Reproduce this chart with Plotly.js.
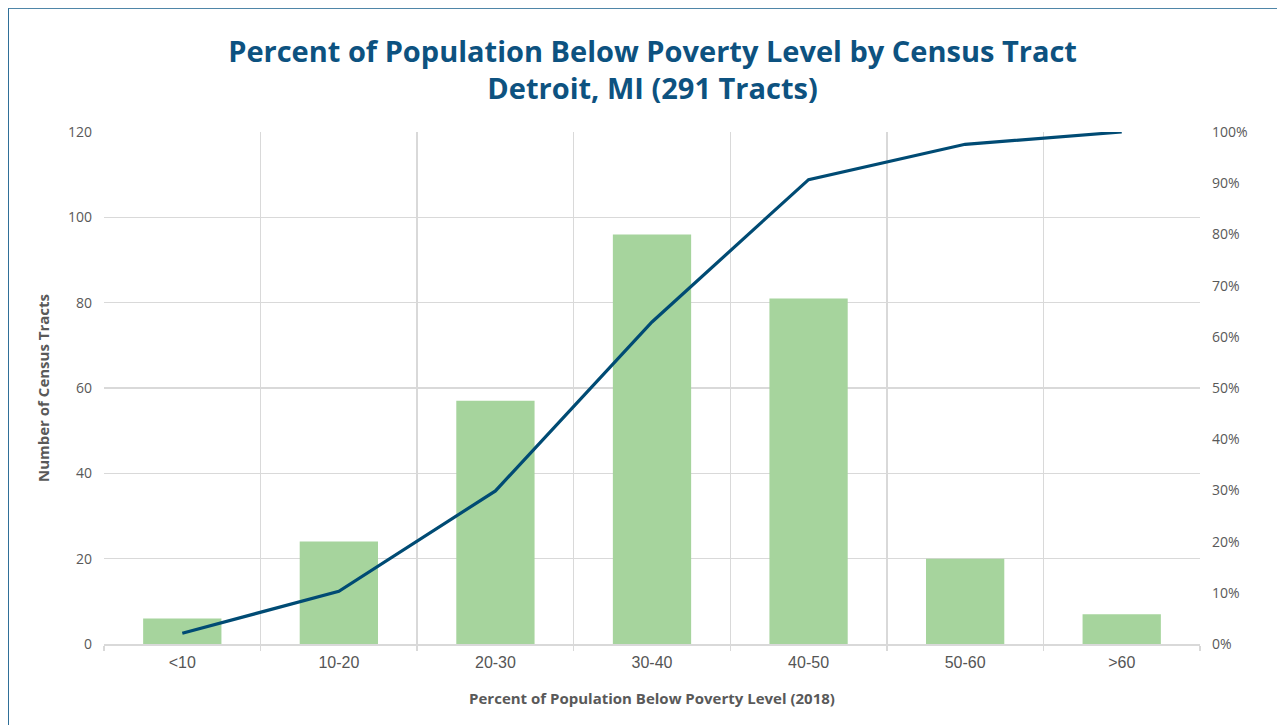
<!DOCTYPE html>
<html>
<head>
<meta charset="utf-8">
<script src="https://cdn.plot.ly/plotly-3.0.1.min.js"></script>
<style>
  html, body { margin: 0; padding: 0; background: #ffffff; }
  #frame { position: absolute; left: 8px; top: 8px; width: 1269px; height: 717px;
           border-left: 1.5px solid #2f6f98; border-top: 1.5px solid #4f86a8; }
  #chart { position: absolute; left: 0; top: 0; width: 1277px; height: 725px; }
</style>
</head>
<body>
<div id="frame"></div>
<div id="chart"></div>
<script>
const categories = ['<10', '10-20', '20-30', '30-40', '40-50', '50-60', '>60'];
const tractCounts = [6, 24, 57, 96, 81, 20, 7];
const cumulativeShare = [0.021, 0.103, 0.299, 0.629, 0.907, 0.976, 1.0];
const leftTicks = [0, 20, 40, 60, 80, 100, 120];

const bars = {
  type: 'bar', x: categories, y: tractCounts,
  marker: { color: '#a6d49d' }, hoverinfo: 'x+y', name: 'Tracts'
};
const line = {
  type: 'scatter', mode: 'lines', x: categories, y: cumulativeShare, yaxis: 'y2',
  line: { color: '#004b74', width: 3.2 }, name: 'Cumulative'
};

const layout = {
  width: 1277, height: 725,
  paper_bgcolor: 'rgba(0,0,0,0)', plot_bgcolor: '#ffffff',
  margin: { l: 104, r: 77, t: 132, b: 81 },
  showlegend: false,
  bargap: 0.5,
  title: {
    text: '<b>Percent of Population Below Poverty Level by Census Tract<br>Detroit, MI (291 Tracts)</b>',
    font: { family: 'Open Sans, sans-serif', size: 29, color: '#0d5280' },
    x: 0.511, xanchor: 'center', y: 0.915, yanchor: 'top'
  },
  xaxis: {
    type: 'category', tickson: 'boundaries',
    showgrid: true, gridcolor: '#d9d9d9', gridwidth: 1.5,
    showline: true, linecolor: '#d9d9d9', linewidth: 1.5,
    ticks: 'outside', ticklen: 5, tickcolor: '#d9d9d9', tickwidth: 1.5,
    ticklabelstandoff: 3,
    tickfont: { family: 'Liberation Sans, Arial, sans-serif', size: 16, color: '#555555' },
    title: { text: '<b>Percent of Population Below Poverty Level (2018)</b>',
             font: { family: 'Open Sans, sans-serif', size: 15, color: '#595959' }, standoff: 24 }
  },
  yaxis: {
    range: [0, 120], tickvals: leftTicks,
    showgrid: true, gridcolor: '#d9d9d9', gridwidth: 1.5,
    zeroline: false, showline: false, ticks: '',
    tickfont: { family: 'Open Sans, sans-serif', size: 14, color: '#595959' },
    ticklabelstandoff: 11,
    title: { text: '<b>Number of Census Tracts</b>',
             font: { family: 'Open Sans, sans-serif', size: 15, color: '#595959' }, standoff: 14 }
  },
  yaxis2: {
    overlaying: 'y', side: 'right', range: [0, 1], dtick: 0.1, tick0: 0,
    tickformat: '.0%', showgrid: false, zeroline: false, showline: false, ticks: '',
    tickfont: { family: 'Open Sans, sans-serif', size: 14, color: '#595959' },
    ticklabelstandoff: 11
  }
};

Plotly.newPlot('chart', [bars, line], layout, { displayModeBar: false, staticPlot: true });
</script>
</body>
</html>
